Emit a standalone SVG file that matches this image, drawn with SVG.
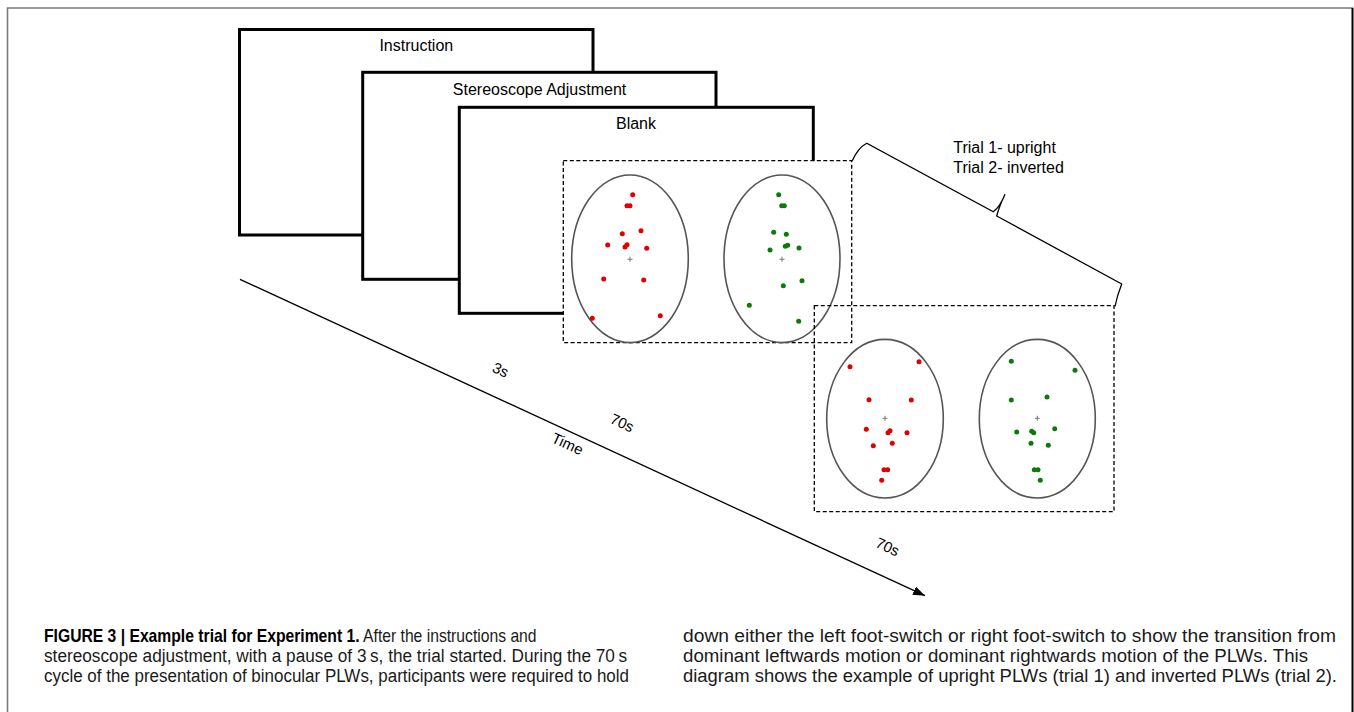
<svg xmlns="http://www.w3.org/2000/svg" width="1354" height="712" viewBox="0 0 1354 712">
  <style>
    .frame { fill: #fff; stroke: #000; stroke-width: 3; }
    .label { font-family: "Liberation Sans", Arial, sans-serif; font-size: 16px; fill: #000; }
    .tlabel { font-family: "Liberation Sans", Arial, sans-serif; font-size: 15px; fill: #000; text-anchor: middle; }
    .dash { stroke: #000; stroke-width: 1.3; stroke-dasharray: 4 2.5; }
    .oval { fill: none; stroke: #555; stroke-width: 1.6; }
    .cross { stroke: #777; stroke-width: 1; }
    .r { fill: #e00000; }
    .g { fill: #0a7a0a; }
    .cap { font-family: "Liberation Sans", Arial, sans-serif; font-size: 18px; fill: #1a1a1a; }
    .capb { font-weight: bold; fill: #000; }
  </style>
  <defs>
    <marker id="arrow" markerUnits="userSpaceOnUse" markerWidth="13" markerHeight="10" refX="12" refY="4.5" orient="auto">
      <path d="M0,0 L12,4.5 L0,9 z" fill="#000"/>
    </marker>
  </defs>

  <rect width="1354" height="712" fill="#fff"/>
  <!-- page border -->
  <path d="M7.5,712 V8 H1353" fill="none" stroke="#7a7a7a" stroke-width="1.6"/>
  <line x1="1352.5" y1="8" x2="1352.5" y2="712" stroke="#000" stroke-width="2"/>

  <!-- stacked screens -->
  <g id="instruction">
    <rect class="frame" x="239.5" y="29.5" width="353.5" height="205.5"/>
    <text class="label" x="416.3" y="51" text-anchor="middle">Instruction</text>
  </g>
  <g id="stereoscope-adjustment">
    <rect class="frame" x="362.7" y="72.3" width="353.3" height="207"/>
    <text class="label" x="539.5" y="94.5" text-anchor="middle">Stereoscope Adjustment</text>
  </g>
  <g id="blank">
    <rect class="frame" x="459.3" y="107.3" width="354" height="206"/>
    <text class="label" x="636" y="128.5" text-anchor="middle">Blank</text>
  </g>

  <!-- trial 1: upright walkers -->
  <g id="trial-1">
    <rect class="dash" x="563.3" y="160.7" width="288.4" height="182" fill="#fff"/>
    <ellipse class="oval" cx="630" cy="258.8" rx="58.3" ry="83.8"/>
    <ellipse class="oval" cx="782" cy="258.8" rx="58" ry="83.8"/>
    <path class="cross" d="M627.5,259.3 H632.5 M630,256.8 V261.8 M779.5,259.3 H784.5 M782,256.8 V261.8"/>
    <g class="r">
      <circle cx="632.7" cy="194.7" r="2.5"/>
      <circle cx="627" cy="205.7" r="2.5"/>
      <circle cx="630" cy="205.7" r="2.5"/>
      <circle cx="622.3" cy="233.7" r="2.5"/>
      <circle cx="641" cy="230.7" r="2.5"/>
      <circle cx="607.7" cy="245" r="2.5"/>
      <circle cx="625" cy="247" r="2.5"/>
      <circle cx="627" cy="244.7" r="2.5"/>
      <circle cx="646.7" cy="248.3" r="2.5"/>
      <circle cx="603.7" cy="279" r="2.5"/>
      <circle cx="643.7" cy="280" r="2.5"/>
      <circle cx="592.3" cy="318.3" r="2.5"/>
      <circle cx="660.3" cy="315.7" r="2.5"/>
    </g>
    <g class="g">
      <circle cx="778.7" cy="194.7" r="2.5"/>
      <circle cx="781.7" cy="205.7" r="2.5"/>
      <circle cx="784.3" cy="205.7" r="2.5"/>
      <circle cx="773.7" cy="232.3" r="2.5"/>
      <circle cx="786.3" cy="234.3" r="2.5"/>
      <circle cx="770" cy="250" r="2.5"/>
      <circle cx="785.3" cy="246.3" r="2.5"/>
      <circle cx="787.7" cy="245.3" r="2.5"/>
      <circle cx="799" cy="248" r="2.5"/>
      <circle cx="783.3" cy="285.7" r="2.5"/>
      <circle cx="802" cy="280.7" r="2.5"/>
      <circle cx="749.3" cy="305.3" r="2.5"/>
      <circle cx="798.7" cy="321.3" r="2.5"/>
    </g>
  </g>

  <!-- trial 2: inverted walkers -->
  <g id="trial-2">
    <rect class="dash" x="814.3" y="305.7" width="299.7" height="206" fill="none"/>
    <ellipse class="oval" cx="885" cy="418.7" rx="58.3" ry="79.3"/>
    <ellipse class="oval" cx="1037.3" cy="418.7" rx="58" ry="79.3"/>
    <path class="cross" d="M882.5,418.3 H887.5 M885,415.8 V420.8 M1034.8,418.3 H1039.8 M1037.3,415.8 V420.8"/>
    <g class="r">
      <circle cx="850" cy="366.7" r="2.5"/>
      <circle cx="919" cy="361.7" r="2.5"/>
      <circle cx="869" cy="399.7" r="2.5"/>
      <circle cx="911.3" cy="400" r="2.5"/>
      <circle cx="866.3" cy="429.3" r="2.5"/>
      <circle cx="888" cy="432.7" r="2.5"/>
      <circle cx="890" cy="430.7" r="2.5"/>
      <circle cx="907" cy="432.7" r="2.5"/>
      <circle cx="873.3" cy="445.7" r="2.5"/>
      <circle cx="892.3" cy="443.3" r="2.5"/>
      <circle cx="884" cy="469.7" r="2.5"/>
      <circle cx="887.7" cy="469.7" r="2.5"/>
      <circle cx="881.7" cy="480.3" r="2.5"/>
    </g>
    <g class="g">
      <circle cx="1011.3" cy="361.3" r="2.5"/>
      <circle cx="1075" cy="370.3" r="2.5"/>
      <circle cx="1011.3" cy="400" r="2.5"/>
      <circle cx="1047" cy="397" r="2.5"/>
      <circle cx="1016.7" cy="432" r="2.5"/>
      <circle cx="1031.7" cy="431.3" r="2.5"/>
      <circle cx="1033.7" cy="432.7" r="2.5"/>
      <circle cx="1054.7" cy="428.7" r="2.5"/>
      <circle cx="1031" cy="443.3" r="2.5"/>
      <circle cx="1048.3" cy="445.3" r="2.5"/>
      <circle cx="1034.3" cy="469.7" r="2.5"/>
      <circle cx="1038" cy="469.7" r="2.5"/>
      <circle cx="1040.3" cy="480.3" r="2.5"/>
    </g>
  </g>

  <!-- brace spanning both trials -->
  <g id="trials-brace">
    <path d="M852.3,160.7 Q858,148 866.7,143.3 L993.3,211.7 Q1000,207 1005,194.3 Q999,207 996.7,216 L1121.7,284 Q1117,296 1115,306.5" fill="none" stroke="#000" stroke-width="1.3"/>
    <text class="label" x="953.3" y="153.3">Trial 1- upright</text>
    <text class="label" x="953.3" y="172.7">Trial 2- inverted</text>
  </g>

  <!-- time axis -->
  <g id="connectors">
    <line x1="240" y1="279.3" x2="925" y2="595.7" stroke="#000" stroke-width="1.3" marker-end="url(#arrow)"/>
  </g>
  <g id="time-labels">
    <text class="tlabel" transform="translate(500.5,370) rotate(24.8)" y="5">3s</text>
    <text class="tlabel" transform="translate(622,423) rotate(24.8)" y="5">70s</text>
    <text class="tlabel" transform="translate(567.5,444) rotate(24.8)" y="5">Time</text>
    <text class="tlabel" transform="translate(887.5,547) rotate(24.8)" y="5">70s</text>
  </g>

  <!-- caption, set narrow to fit two columns -->
  <g id="caption">
    <text class="cap" transform="translate(44,642) scale(0.872,1)"><tspan class="capb">FIGURE 3 | Example trial for Experiment 1.</tspan> After the instructions and</text>
    <text class="cap" x="44" y="662" textLength="583" lengthAdjust="spacingAndGlyphs">stereoscope adjustment, with a pause of 3&#8201;s, the trial started. During the 70&#8201;s</text>
    <text class="cap" x="44" y="682" textLength="585" lengthAdjust="spacingAndGlyphs">cycle of the presentation of binocular PLWs, participants were required to hold</text>
    <text class="cap" x="683" y="642" textLength="653" lengthAdjust="spacingAndGlyphs">down either the left foot-switch or right foot-switch to show the transition from</text>
    <text class="cap" x="683" y="662" textLength="625" lengthAdjust="spacingAndGlyphs">dominant leftwards motion or dominant rightwards motion of the PLWs. This</text>
    <text class="cap" x="683" y="682" textLength="654" lengthAdjust="spacingAndGlyphs">diagram shows the example of upright PLWs (trial 1) and inverted PLWs (trial 2).</text>
  </g>
</svg>
